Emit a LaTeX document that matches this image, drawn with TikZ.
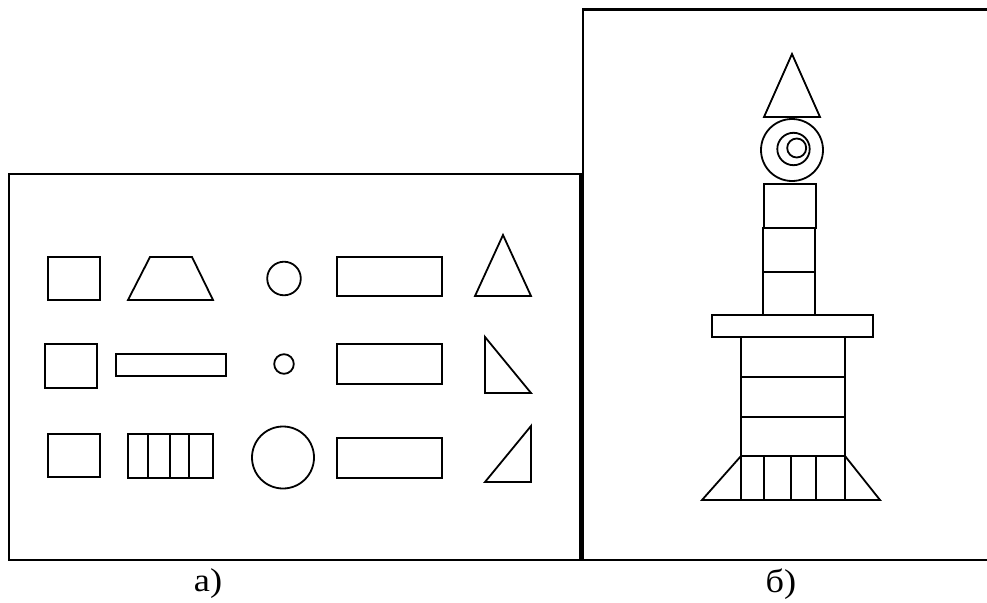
\documentclass[tikz,border=0pt]{standalone}
\usepackage{fontspec}
\setmainfont{Liberation Serif}
\begin{document}
\begin{tikzpicture}[x=1pt,y=-1pt,
  frame/.style={line width=2.2pt},
  fig/.style={line width=1.8pt, line join=miter},
  caption/.style={font=\fontsize{33}{36}\selectfont, inner sep=0pt, xscale=1.1}]
\useasboundingbox (0,0) rectangle (987,602);

% ---- panel a: set of pieces ----
\draw[frame] (9,174) rectangle (580.5,560);

% row 1
\draw[fig] (48,257) rectangle (100,300);
\draw[fig] (128,300) -- (150,257) -- (192,257) -- (213,300) -- cycle;
\draw[fig] (284,278.5) circle (16.8);
\draw[fig] (337,257) rectangle (442,296);
\draw[fig] (503,235) -- (531,296) -- (475,296) -- cycle;

% row 2
\draw[fig] (45,344) rectangle (97,388);
\draw[fig] (116,354) rectangle (226,376);
\draw[fig] (284,364) circle (9.8);
\draw[fig] (337,344) rectangle (442,384);
\draw[fig] (485,337) -- (531,393) -- (485,393) -- cycle;

% row 3
\draw[fig] (48,434) rectangle (100,477);
\draw[fig] (128,434) rectangle (213,478);
\foreach \xx in {148,170,189} \draw[fig] (\xx,434) -- (\xx,478);
\draw[fig] (283,457.5) circle (31);
\draw[fig] (337,438) rectangle (442,478);
\draw[fig] (485,482) -- (531,482) -- (531,426) -- cycle;

\node[caption] (capa) at (208,584) {а)};

% ---- panel b: tower built from the pieces ----
\draw[frame] (990,9.5) -- (582.7,9.5) -- (582.7,560) -- (990,560);

% spire
\draw[fig] (792,54) -- (820,117) -- (764,117) -- cycle;
% clock
\draw[fig] (792,150) circle (31);
\draw[fig] (793.5,149) circle (16.2);
\draw[fig] (796.7,148) circle (9.5);
% upper column
\draw[fig] (764,184) rectangle (816,228);
\draw[fig] (763,228) rectangle (815,272);
\draw[fig] (763,272) rectangle (815,315);
% slab
\draw[fig] (712,315) rectangle (873,337);
% lower body
\draw[fig] (741,337) rectangle (845,456);
\draw[fig] (741,377) -- (845,377);
\draw[fig] (741,417) -- (845,417);
% base
\draw[fig] (741,456) -- (702,500) -- (880,500) -- (845,456);
\foreach \xx in {741,764,791,816,845} \draw[fig] (\xx,456) -- (\xx,500);

\node[caption] (capb) at (781,584) {б)};
\end{tikzpicture}
\end{document}
